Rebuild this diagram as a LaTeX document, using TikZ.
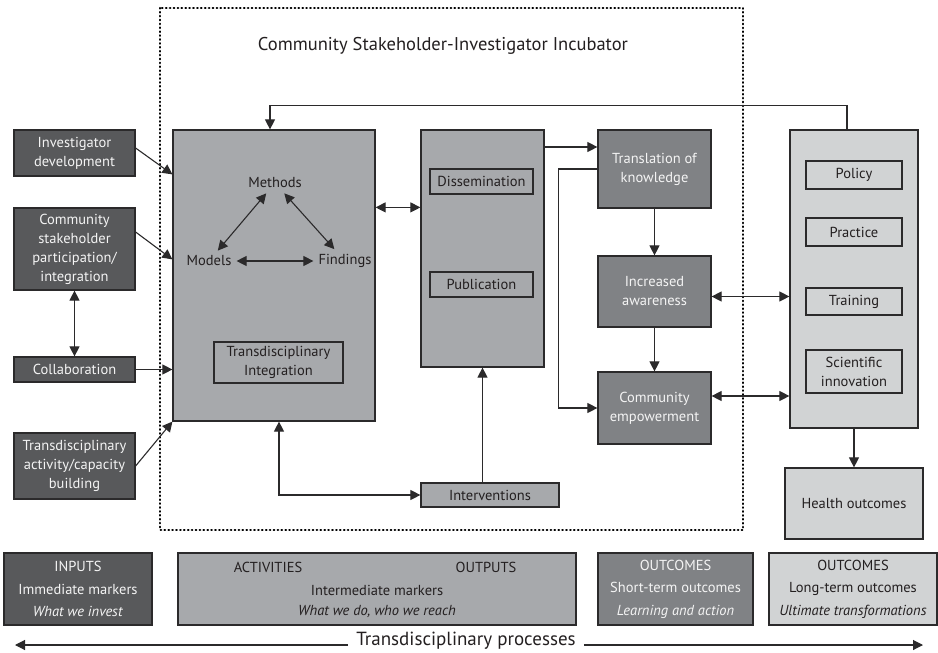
\documentclass[tikz,border=0pt]{standalone}
\usepackage{fontspec}
\setmainfont{PT Sans}
\usetikzlibrary{arrows.meta}
\definecolor{edge}{HTML}{2B2A2B}
\definecolor{inputgray}{HTML}{58595B}
\definecolor{midgray}{HTML}{A7A9AC}
\definecolor{shortgray}{HTML}{808285}
\definecolor{longgray}{HTML}{D1D3D4}
\definecolor{lighttext}{HTML}{F4F4F4}
\definecolor{darktext}{HTML}{231F20}
\newcommand{\bodysize}{\fontsize{14.5}{19}\selectfont}
\newcommand{\bigsize}{\fontsize{18.5}{22}\selectfont}
\begin{document}
\begin{tikzpicture}[x=1pt,y=-1pt,
  every node/.style={font=\bodysize, inner sep=0pt, align=center, text=darktext},
  frame/.style={draw=edge, line width=1.2pt},
  inbox/.style={frame, fill=inputgray, text=lighttext},
  actbox/.style={frame, fill=midgray},
  shortbox/.style={frame, fill=shortgray, text=lighttext},
  longbox/.style={frame, fill=longgray},
  subbox/.style={draw=edge, line width=1.1pt},
  term/.style={inner sep=5pt},
  tip/.tip={Triangle[length=10pt,width=10pt]},
  link/.style={draw=edge, line width=1.1pt, -tip},
  duplex/.style={draw=edge, line width=1.1pt, tip-tip},
  rowtext/.style={font=\fontsize{14.5}{22.5}\selectfont},
]
\useasboundingbox (0,0) rectangle (938,653);

% incubator frame and title
\draw[black, line width=2.2pt, line cap=round, dash pattern=on 0.6pt off 3.3pt]
  (160,8) rectangle (743,530);
\node[font=\bigsize] (title) at (443,46) {Community Stakeholder-Investigator Incubator};

% inputs
\node[inbox, minimum width=121pt, minimum height=46pt] (invdev) at (74.5,153) {Investigator\\development};
\node[inbox, minimum width=121pt, minimum height=82pt] (comm) at (74.5,249) {Community\\stakeholder\\participation/\\integration};
\node[inbox, minimum width=121pt, minimum height=25pt] (collab) at (74.5,369.5) {Collaboration};
\node[inbox, minimum width=121pt, minimum height=66pt] (tdact) at (74.5,466) {Transdisciplinary\\activity/capacity\\building};

% activities
\node[actbox, minimum width=202pt, minimum height=291pt] (main) at (274,275.5) {};
\node[term] (methods) at (275,183) {Methods};
\node[term] (models) at (209,261) {Models};
\node[term] (findings) at (345,261) {Findings};
\node[subbox, minimum width=129pt, minimum height=41pt] (tdint) at (278.5,362.5) {Transdisciplinary\\Integration};

% outputs
\node[actbox, minimum width=123pt, minimum height=237pt] (outs) at (482.5,248.5) {};
\node[subbox, minimum width=103pt, minimum height=25pt] (dissem) at (481.5,181.5) {Dissemination};
\node[subbox, minimum width=103pt, minimum height=25pt] (publ) at (481.5,284.5) {Publication};
\node[actbox, minimum width=138pt, minimum height=24pt] (interv) at (490,495) {Interventions};

% short-term outcomes
\node[shortbox, minimum width=113pt, minimum height=78pt] (transl) at (654.5,169) {Translation of\\knowledge};
\node[shortbox, minimum width=113pt, minimum height=71pt] (aware) at (654.5,291.5) {Increased\\awareness};
\node[shortbox, minimum width=113pt, minimum height=72pt] (empow) at (654.5,408) {Community\\empowerment};

% long-term outcomes
\node[longbox, minimum width=128pt, minimum height=298pt] (longterm) at (854,279) {};
\node[subbox, minimum width=96pt, minimum height=28pt] (policy) at (854,175) {Policy};
\node[subbox, minimum width=96pt, minimum height=28pt] (practice) at (854,232) {Practice};
\node[subbox, minimum width=96pt, minimum height=27pt] (training) at (854,301.5) {Training};
\node[subbox, minimum width=96pt, minimum height=43pt] (sciinno) at (854,371.5) {Scientific\\innovation};
\node[longbox, minimum width=138pt, minimum height=71pt] (health) at (854,503.5) {Health outcomes};

% inputs into activities
\draw[link] ([yshift=5pt]invdev.east) -- ([yshift=-45pt]main.north west);
\draw[link] ([yshift=17pt]comm.east) -- ([yshift=-130pt]main.north west);
\draw[link] (collab.east) -- (collab.east -| main.west);
\draw[link] (tdact.east) -- (main.south west);
\draw[duplex] (comm.south) -- (collab.north);

% methods triangle
\draw[duplex] (methods) -- (models);
\draw[duplex] (methods) -- (findings);
\draw[duplex] (models) -- (findings);

% activities and outputs
\coordinate (mainr) at ([yshift=-78pt]main.north east);
\draw[duplex] (mainr) -- (mainr -| outs.west);
\draw[link] (interv.north -| outs.south) -- (outs.south);
\draw[duplex] ([xshift=5pt]main.south) |- (interv.west);

% outputs into short-term outcomes
\coordinate (translin) at ([yshift=22pt]transl.west);
\draw[link] (outs.east |- translin) -- (translin);
\draw[link] (transl.west) -- ++(-39,0) |- (empow.west);
\draw[link] (transl.south) -- (aware.north);
\draw[link] (aware.south) -- (empow.north);

% short-term and long-term outcomes
\coordinate (awarer) at ([yshift=-5pt]aware.east);
\draw[duplex] (awarer) -- (awarer -| longterm.west);
\coordinate (empowr) at ([yshift=12pt]empow.east);
\draw[duplex] (empowr) -- (empowr -| longterm.west);
\draw[link] (longterm.south) -- (health.north);

% feedback loop
\draw[link] ([xshift=-7pt]longterm.north) -- ++(0,-24) -| ([xshift=-4pt]main.north);

% logic model row
\node[inbox, rowtext, minimum width=148pt, minimum height=72pt] (rowin) at (78,589)
  {INPUTS\\Immediate markers\\\textit{What we invest}};
\node[actbox, minimum width=398pt, minimum height=72pt] (rowact) at (377,589) {};
\node (rowacta) at (268,567) {ACTIVITIES};
\node (rowactb) at (486,567) {OUTPUTS};
\node (rowactc) at (377,590) {Intermediate markers};
\node (rowactd) at (377,612) {\textit{What we do, who we reach}};
\node[shortbox, rowtext, minimum width=155pt, minimum height=72pt] (rowshort) at (675.5,589)
  {OUTCOMES\\Short-term outcomes\\\textit{Learning and action}};
\node[longbox, rowtext, minimum width=168pt, minimum height=72pt] (rowlong) at (853,589)
  {OUTCOMES\\Long-term outcomes\\\textit{Ultimate transformations}};

% process axis
\node[font=\fontsize{19}{22}\selectfont] (process) at (466,641) {Transdisciplinary processes};
\coordinate (axisl) at (15,645);
\coordinate (axisr) at (923,645);
\draw[link] ([xshift=-8pt]process.west |- axisl) -- (axisl);
\draw[link] ([xshift=8pt]process.east |- axisr) -- (axisr);
\end{tikzpicture}
\end{document}
